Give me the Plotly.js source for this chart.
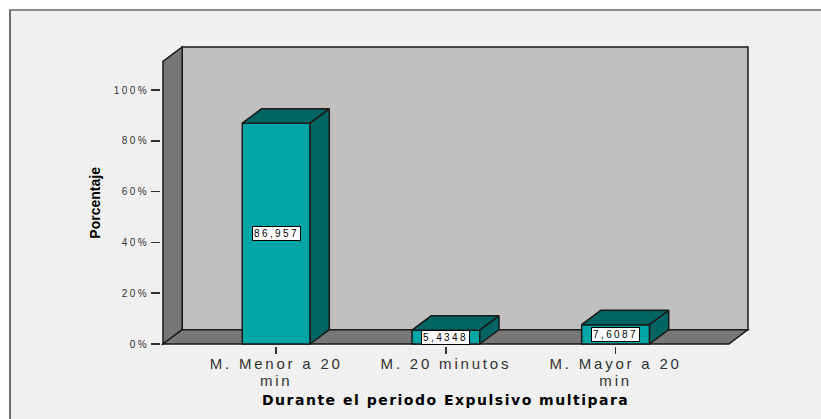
<!DOCTYPE html>
<html>
<head>
<meta charset="utf-8">
<script src="https://cdn.plot.ly/plotly-3.0.1.min.js"></script>
<style>
  html, body { margin: 0; padding: 0; background: #ffffff; width: 821px; height: 419px; overflow: hidden; }
  #wrap { position: absolute; left: 9px; top: 9px; width: 812px; height: 410px;
          border-top: 2px solid #8c8c8c; border-left: 2px solid #6e6e6e; background: #f0f0f0; }
  #chart { width: 810px; height: 408px; }
  text[style*="Arimo"] { letter-spacing: 2.8px; }
  text[style*="Helvetica"] { letter-spacing: 2.4px; }
  text[style*="Verdana"] { letter-spacing: 1.5px; }
</style>
</head>
<body>
<div id="wrap"><div id="chart"></div></div>
<script>
// ---- data ----
const categories = ['M. Menor a 20<br>min', 'M. 20 minutos', 'M. Mayor a 20<br>min'];
const percents = [86.957, 5.4348, 7.6087];
const valueLabels = ['86,957', '5,4348', '7,6087'];
const yTickVals = [0, 20, 40, 60, 80, 100];
const yTickText = ['0%', '20%', '40%', '60%', '80%', '100%'];
const xTitle = 'Durante el periodo Expulsivo multipara';
const yTitle = 'Porcentaje';

// ---- 3D box geometry (in axis units) ----
const X0 = -0.667, X1 = 2.667;      // front floor extent
const YMAX = 111.3;                  // front wall top
const DX = 0.113, DY = 5.65;         // depth offset
const BARW = 0.4;
const PADX = 2 / 169.7, PADY = 2 / 2.539;

const XTF = 'Liberation Sans, Arimo, sans-serif';
const YTF = 'Liberation Sans, Helvetica, sans-serif';
const FRONT = '#00a5a5', DARK = '#006462', EDGE = '#1a1a1a';

const idx = categories.map((_, i) => i);

const traces = [];
// front faces of the bars
traces.push({
  type: 'bar', x: idx, y: percents, width: BARW, base: 0,
  marker: { color: FRONT, line: { color: EDGE, width: 1.5 } },
  hoverinfo: 'skip', showlegend: false
});
// tops and sides
percents.forEach((v, i) => {
  const l = i - BARW / 2, r = i + BARW / 2;
  traces.push({
    type: 'scatter', mode: 'lines', fill: 'toself', fillcolor: DARK,
    x: [l, r, r + DX, l + DX, l], y: [v, v, v + DY, v + DY, v],
    line: { color: EDGE, width: 1.5 }, hoverinfo: 'skip', showlegend: false
  });
  traces.push({
    type: 'scatter', mode: 'lines', fill: 'toself', fillcolor: DARK,
    x: [r, r + DX, r + DX, r, r], y: [0, DY, v + DY, v, 0],
    line: { color: EDGE, width: 1.5 }, hoverinfo: 'skip', showlegend: false
  });
});

const P = (pts) => 'M ' + pts.map(p => p[0] + ',' + p[1]).join(' L ') + ' Z';
const shapes = [
  { type: 'path', xref: 'x', yref: 'y', layer: 'below',
    path: P([[X0 + DX, DY], [X1 + DX, DY], [X1 + DX, YMAX + DY], [X0 + DX, YMAX + DY]]),
    fillcolor: '#c0c0c0', line: { color: EDGE, width: 1.5 } },
  { type: 'path', xref: 'x', yref: 'y', layer: 'below',
    path: P([[X0, 0], [X0 + DX, DY], [X0 + DX, YMAX + DY], [X0, YMAX]]),
    fillcolor: '#777777', line: { color: EDGE, width: 1.5 } },
  { type: 'path', xref: 'x', yref: 'y', layer: 'below',
    path: P([[X0, 0], [X1, 0], [X1 + DX, DY], [X0 + DX, DY]]),
    fillcolor: '#777777', line: { color: EDGE, width: 1.5 } }
];

const annotations = percents.map((v, i) => ({
  x: i, y: v / 2, xref: 'x', yref: 'y', text: valueLabels[i], showarrow: false,
  bgcolor: '#ffffff', bordercolor: '#000000', borderwidth: 1, borderpad: 1,
  font: { family: YTF, size: 10, color: '#000000' }
}));
annotations.push({
  x: (X0 + X1) / 2, y: 0, xref: 'x', yref: 'paper', xanchor: 'center', yanchor: 'middle', yshift: -54,
  text: xTitle, showarrow: false,
  font: { family: 'DejaVu Sans, Verdana, sans-serif', size: 14, color: '#000000', weight: 'bold' }
});
annotations.push({
  x: 0, xref: 'paper', xshift: -66, xanchor: 'center', y: YMAX / 2, yref: 'y', yanchor: 'middle',
  textangle: -90, text: yTitle, showarrow: false,
  font: { family: 'Liberation Sans Narrow, Liberation Sans, sans-serif', size: 14, color: '#000000', weight: 'bold' }
});

const layout = {
  width: 810, height: 408,
  margin: { l: 150, r: 71, t: 34, b: 73, pad: 0 },
  paper_bgcolor: '#f0f0f0', plot_bgcolor: 'rgba(0,0,0,0)',
  showlegend: false,
  xaxis: {
    range: [X0 - PADX, X1 + DX + PADX], tickvals: idx, ticktext: categories,
    ticks: 'outside', ticklen: 7, tickwidth: 1.5, tickcolor: '#333333',
    ticklabelstandoff: -3,
    showgrid: false, zeroline: false, showline: false, fixedrange: true,
    tickfont: { family: XTF, size: 15, color: '#333333' }
  },
  yaxis: {
    range: [-PADY, YMAX + DY + PADY], tickvals: yTickVals, ticktext: yTickText,
    ticks: 'outside', ticklen: 9, tickwidth: 1.5, tickcolor: '#333333',
    showgrid: false, zeroline: false, showline: false, fixedrange: true,
    tickfont: { family: YTF, size: 10, color: '#333333' }
  },
  shapes: shapes,
  annotations: annotations
};

Plotly.newPlot('chart', traces, layout, { staticPlot: true, displayModeBar: false }).then(() => {
  // tighten the line spacing of two-line category labels
  document.querySelectorAll('.xtick text tspan.line').forEach(t => {
    const dy = parseFloat(t.getAttribute('dy') || '0');
    if (dy > 0) t.setAttribute('dy', '1.15em');
  });
});
</script>
</body>
</html>
